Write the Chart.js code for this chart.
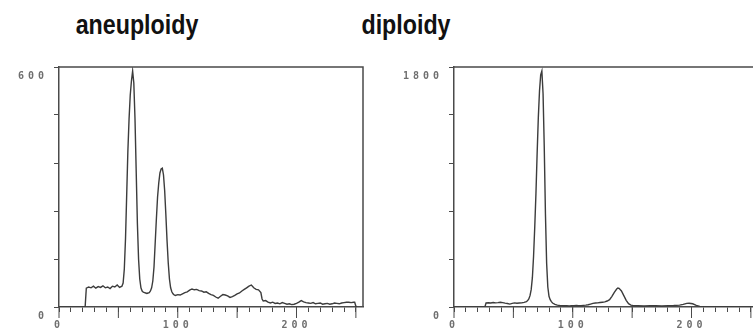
<!DOCTYPE html>
<html>
<head>
<meta charset="utf-8">
<script src="https://cdn.jsdelivr.net/npm/chart.js@4/dist/chart.umd.min.js"></script>
<style>
  html, body { margin: 0; padding: 0; background: #fff; overflow: hidden; }
  body { width: 753px; height: 333px; position: relative; }
  canvas { position: absolute; top: 0; }
  .title {
    position: absolute; top: 11px; width: 220px; text-align: center;
    font: bold 28px "Liberation Sans", Arial, sans-serif; line-height: 28px;
    color: #111; transform: scaleX(0.83); transform-origin: center;
  }
</style>
</head>
<body>
<div class="title" style="left:27px">aneuploidy</div>
<div class="title" style="left:296px">diploidy</div>
<canvas id="aneu" width="380" height="333" style="left:0"></canvas>
<canvas id="dipl" width="380" height="333" style="left:380px"></canvas>
<script>
// channel axis (both panels)
const xTicks = [0,10,20,30,40,50,60,70,80,90,100,110,120,130,140,150,160,170,180,190,200,210,220,230,240,250];
const xMajor = [0,50,100,150,200,250];
const xLabeled = [0,100,200];

// aneuploidy histogram
const aneuChannels = [0,22,23,25,27,29,31,33,35,37,39,41,43,45,47,49,51,53,54,55,56,57,58,59,60,61,62,63,64,65,66,67,68,69,70,71,72,73,74,75,76,77,78,79,80,81,82,83,84,85,86,87,88,89,90,91,92,93,94,95,96,97,98,100,102,104,106,108,110,112,114,116,118,120,122,124,126,128,130,132,134,136,138,140,142,144,146,148,150,152,154,156,158,160,162,164,166,168,170,171,172,174,176,178,180,182,184,186,188,190,192,194,196,198,200,202,204,206,208,210,212,214,216,218,220,222,224,226,228,230,232,234,236,238,240,242,244,246,248,249,250,251];
const aneuCounts = [0,0,47,50,48,52,47,51,49,53,48,50,46,52,50,55,49,52,60,95,170,280,390,470,530,565,590,560,470,340,210,120,70,48,40,37,36,35,34,35,36,40,48,65,100,160,220,275,310,335,345,347,330,290,230,165,110,70,48,38,33,30,29,31,30,33,36,38,42,45,43,44,41,40,37,38,34,31,29,25,22,27,31,30,28,24,26,29,33,35,40,44,48,52,55,48,44,43,36,20,15,16,12,10,12,9,10,8,11,9,7,8,6,7,9,12,16,13,11,10,9,11,8,9,10,7,8,9,7,8,10,9,8,10,11,12,12,11,12,12,2,0];
const aneuYTicks = [0,120,240,360,480,600];
const aneuYLabeled = [0,600];

// diploidy histogram
const diplChannels = [0,26,27,29,31,33,35,37,39,41,43,45,47,49,51,53,55,57,59,61,62,63,64,65,66,67,68,69,70,71,72,73,74,75,76,77,78,79,80,81,82,83,85,87,89,91,93,95,97,99,101,103,105,107,109,111,113,115,117,119,121,123,125,127,129,131,133,135,137,138,139,141,143,145,147,149,151,155,160,165,170,175,180,185,190,193,196,198,201,204,207,212,220,230,240,250,256];
const diplCounts = [0,0,30,32,30,34,31,33,36,33,29,26,22,27,31,28,30,31,35,40,48,60,85,130,220,380,600,850,1150,1420,1620,1740,1770,1600,1200,700,330,150,80,55,40,30,20,14,11,10,9,10,8,9,10,11,9,10,12,14,17,22,27,30,31,34,36,38,45,55,80,110,135,142,140,120,85,50,25,14,10,9,8,10,9,8,10,11,14,20,27,28,24,12,5,3,2,2,1,1,1];
const diplYTicks = [0,360,720,1080,1440,1800];
const diplYLabeled = [0,1800];

const axisColor = "#4a4a4a";
const labelColor = "#6f6f6f";
const lineColor = "#3c3c3c";

const framePlugin = {
    id: "frame",
    beforeDraw(chart) {
        chart.ctx.letterSpacing = "4px";
    },
    afterDraw(chart) {
        const { ctx, chartArea: a, scales } = chart;
        ctx.save();
        ctx.strokeStyle = axisColor;
        ctx.lineWidth = 1.5;
        ctx.beginPath();
        ctx.moveTo(a.left, a.top);
        ctx.lineTo(a.right, a.top);
        ctx.lineTo(a.right, a.bottom);
        ctx.stroke();
        // longer marks every 50 channels
        ctx.lineWidth = 1;
        ctx.beginPath();
        xMajor.forEach((v) => {
            const px = scales.x.getPixelForValue(v);
            ctx.moveTo(px, a.bottom);
            ctx.lineTo(px, a.bottom + 11);
        });
        ctx.stroke();
        ctx.restore();
    },
};

const makeChart = (id, channels, counts, yTicks, yLabeled, yWidth, padRight) => {
    const ctx = document.getElementById(id);
    return new Chart(ctx, {
        type: "line",
        data: {
            datasets: [
                {
                    data: channels.map((c, i) => ({ x: c, y: counts[i] })),
                    borderColor: lineColor,
                    borderWidth: 1.4,
                    pointRadius: 0,
                    tension: 0,
                    fill: false,
                },
            ],
        },
        options: {
            responsive: false,
            animation: false,
            devicePixelRatio: 1,
            layout: { padding: { top: 67, right: padRight, left: 0, bottom: 0 } },
            plugins: { legend: { display: false }, tooltip: { enabled: false } },
            scales: {
                x: {
                    type: "linear",
                    min: 0,
                    max: 256,
                    afterBuildTicks: (s) => { s.ticks = xTicks.map((v) => ({ value: v })); },
                    afterFit: (s) => { s.height = 26; },
                    grid: { drawOnChartArea: false, drawTicks: true, tickLength: 5, color: axisColor },
                    border: { color: axisColor, width: 1.5 },
                    ticks: {
                        autoSkip: false,
                        maxRotation: 0,
                        padding: 7,
                        color: labelColor,
                        font: { family: "DejaVu Sans Mono", size: 10, weight: "bold" },
                        callback: (v) => (xLabeled.includes(v) ? String(v) : ""),
                    },
                },
                y: {
                    min: 0,
                    max: yTicks[yTicks.length - 1],
                    afterBuildTicks: (s) => { s.ticks = yTicks.map((v) => ({ value: v })); },
                    afterFit: (s) => { s.width = yWidth; },
                    grid: { drawOnChartArea: false, drawTicks: true, tickLength: 5, color: axisColor },
                    border: { color: axisColor, width: 1.5 },
                    ticks: {
                        autoSkip: false,
                        padding: 6,
                        color: labelColor,
                        font: { family: "DejaVu Sans Mono", size: 10, weight: "bold", lineHeight: "19px" },
                        callback: (v) => (yLabeled.includes(v) ? ["", String(v)] : ""),
                    },
                },
            },
        },
        plugins: [framePlugin],
    });
};

makeChart("aneu", aneuChannels, aneuCounts, aneuYTicks, aneuYLabeled, 59, 17);
makeChart("dipl", diplChannels, diplCounts, diplYTicks, diplYLabeled, 74, 2);
</script>
</body>
</html>
